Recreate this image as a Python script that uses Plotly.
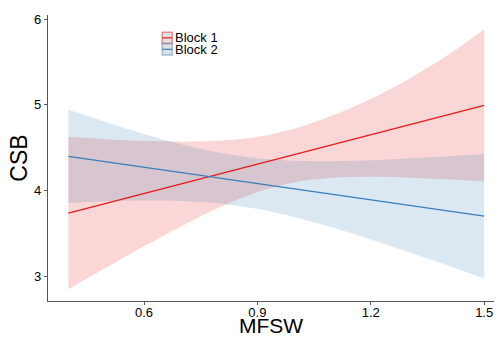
import plotly.graph_objects as go

# ---- data ----
x_grid = [0.4, 0.5, 0.6, 0.7, 0.8, 0.9, 1.0, 1.1, 1.2, 1.3, 1.4, 1.5]

block1_fit = [3.735, 3.850, 3.964, 4.079, 4.193, 4.308, 4.423, 4.537, 4.652, 4.766, 4.881, 4.995]
block1_upper = [4.624, 4.600, 4.580, 4.571, 4.582, 4.625, 4.725, 4.880, 5.070, 5.300, 5.570, 5.884]
block1_lower = [2.846, 3.100, 3.348, 3.587, 3.804, 3.983, 4.098, 4.148, 4.160, 4.150, 4.131, 4.106]

block2_fit = [4.400, 4.336, 4.273, 4.209, 4.146, 4.082, 4.018, 3.955, 3.891, 3.828, 3.764, 3.700]
block2_upper = [4.946, 4.798, 4.661, 4.539, 4.442, 4.378, 4.348, 4.343, 4.353, 4.374, 4.398, 4.427]
block2_lower = [3.854, 3.874, 3.885, 3.879, 3.850, 3.786, 3.688, 3.567, 3.429, 3.282, 3.130, 2.973]

series_names = ["Block 1", "Block 2"]
x_ticks = [0.6, 0.9, 1.2, 1.5]
y_ticks = [3, 4, 5, 6]
x_title = "MFSW"
y_title = "CSB"

# ---- styles ----
line_colors = ["#E41A1C", "#377EB8"]
fill_colors = ["rgba(228,26,28,0.18)", "rgba(55,126,184,0.18)"]
key_borders = ["rgba(228,26,28,0.45)", "rgba(55,126,184,0.45)"]
FONT = "Liberation Sans, Arial, sans-serif"

fig = go.Figure()
series = [
    (block1_fit, block1_upper, block1_lower),
    (block2_fit, block2_upper, block2_lower),
]
for i, (fit, up, lo) in enumerate(series):
    fig.add_trace(go.Scatter(
        x=x_grid, y=lo, mode="lines",
        line=dict(width=0, shape="spline", smoothing=0.8, color=fill_colors[i]),
        hoverinfo="skip", showlegend=False))
    fig.add_trace(go.Scatter(
        x=x_grid, y=up, mode="lines", fill="tonexty", fillcolor=fill_colors[i],
        line=dict(width=0, shape="spline", smoothing=0.8, color=fill_colors[i]),
        hoverinfo="skip", showlegend=False))
for i, (fit, up, lo) in enumerate(series):
    fig.add_trace(go.Scatter(
        x=x_grid, y=fit, mode="lines", name=series_names[i],
        line=dict(color=line_colors[i], width=1.3), showlegend=False))

# compact legend (ggplot-style keys)
leg_x0, leg_y0 = 0.256, 0.94
key_w, key_h = 0.0225, 0.040
for i, name in enumerate(series_names):
    ytop = leg_y0 - i * key_h
    fig.add_shape(type="rect", xref="paper", yref="paper",
                  x0=leg_x0, x1=leg_x0 + key_w, y0=ytop - key_h, y1=ytop,
                  fillcolor="rgba(200,200,200,0.55)",
                  line=dict(color=key_borders[i], width=1.5))
    fig.add_shape(type="line", xref="paper", yref="paper",
                  x0=leg_x0, x1=leg_x0 + key_w, y0=ytop - key_h / 2, y1=ytop - key_h / 2,
                  line=dict(color=line_colors[i], width=1.2))
    fig.add_annotation(xref="paper", yref="paper", x=leg_x0 + key_w + 0.002,
                       y=ytop - key_h / 2, text=name, showarrow=False,
                       xanchor="left", yanchor="middle",
                       font=dict(family=FONT, size=13, color="black"))

# x-axis title placed below tick labels
fig.add_annotation(xref="paper", yref="paper", x=0.5, y=0, yanchor="middle",
                   yshift=-24, text=x_title, showarrow=False, borderpad=0,
                   font=dict(family=FONT, size=21, color="black"))

axis_common = dict(showline=True, linecolor="#555555", linewidth=1.2,
                   ticks="outside", ticklen=3, tickcolor="#555555",
                   showgrid=False, zeroline=False, mirror=False,
                   tickfont=dict(family=FONT, size=13, color="black"))

fig.update_layout(
    width=498, height=337,
    margin=dict(l=48, r=4, t=15, b=36),
    paper_bgcolor="white", plot_bgcolor="white",
    showlegend=False,
    xaxis=dict(range=[0.346, 1.526], tickvals=x_ticks, ticktext=[str(v) for v in x_ticks],
               ticklabelstandoff=-4, automargin=False, **axis_common),
    yaxis=dict(range=[2.71, 6.05], tickvals=y_ticks,
               title=dict(text=y_title, font=dict(family=FONT, size=23, color="black"), standoff=0),
               automargin=False, **axis_common),
)

fig.write_html("out.html")
